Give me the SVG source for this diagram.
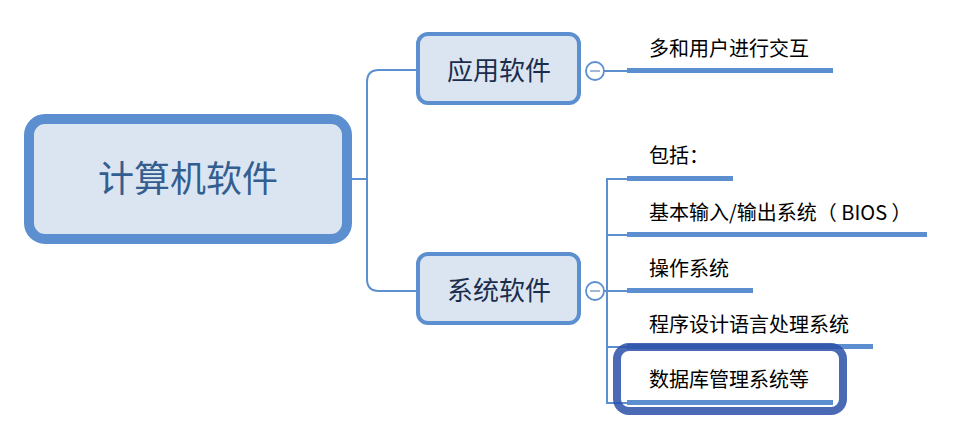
<svg xmlns="http://www.w3.org/2000/svg" width="962" height="438" viewBox="0 0 962 438">
<style>
.ln{fill:none;stroke:#5b8fd0;stroke-width:2}
.bar{fill:#5b8fd0}
.node{fill:#dbe5f1;stroke:#5b8fd0}
.t{font-family:"Noto Sans CJK SC","Microsoft YaHei",sans-serif}
.leaf{font-size:20px;fill:#000}
.sub{font-size:26px;fill:#1b2d4d;text-anchor:middle}
.tog{fill:#fff;stroke:#5b8fd0;stroke-width:1.8}
.minus{stroke:#8aa6c9;stroke-width:1.6}
</style>
<g id="connectors">
<path class="ln" d="M352 179H367"/>
<path class="ln" d="M417 70H379Q367 70 367 82V279Q367 291 379 291H417"/>
<path class="ln" d="M604 71H628"/>
<path class="ln" d="M604 291H607"/>
<path class="ln" d="M627 179H607V403H627M607 235H627M607 291H627M607 347H627"/>
</g>
<g id="root">
<rect class="node" x="29" y="119" width="318" height="120" rx="16" stroke-width="10"/>
<text class="t" x="188" y="192" font-size="36" fill="#335e8f" text-anchor="middle">计算机软件</text>
</g>
<g id="app">
<rect class="node" x="418" y="34" width="161" height="69" rx="10" stroke-width="4"/>
<text class="t sub" x="499" y="80">应用软件</text>
<circle class="tog" cx="595" cy="71" r="9"/>
<path class="minus" d="M590 71H600"/>
</g>
<g id="sys">
<rect class="node" x="418" y="254" width="161" height="69" rx="10" stroke-width="4"/>
<text class="t sub" x="499" y="300">系统软件</text>
<circle class="tog" cx="595" cy="291" r="9"/>
<path class="minus" d="M590 291H600"/>
</g>
<g id="leaf1">
<rect class="bar" x="627" y="68" width="206" height="5"/>
<text class="t leaf" x="649" y="56">多和用户进行交互</text>
</g>
<g id="leaf2">
<rect class="bar" x="627" y="176" width="106" height="5"/>
<text class="t leaf" x="649" y="163">包括：</text>
</g>
<g id="leaf3">
<rect class="bar" x="627" y="232" width="300" height="5"/>
<text class="t leaf" x="649" y="220">基本输入/输出系统（ BIOS ）</text>
</g>
<g id="leaf4">
<rect class="bar" x="627" y="288" width="126" height="5"/>
<text class="t leaf" x="649" y="276">操作系统</text>
</g>
<g id="leaf5">
<rect class="bar" x="627" y="344" width="246" height="5"/>
<text class="t leaf" x="649" y="332">程序设计语言处理系统</text>
</g>
<g id="leaf6">
<rect class="bar" x="627" y="400" width="206" height="5"/>
<text class="t leaf" x="649" y="387">数据库管理系统等</text>
</g>
<g id="highlight">
<rect x="617" y="347" width="226" height="64" rx="12" fill="none" stroke="#2a50a8" stroke-opacity="0.85" stroke-width="8"/>
</g>
</svg>
